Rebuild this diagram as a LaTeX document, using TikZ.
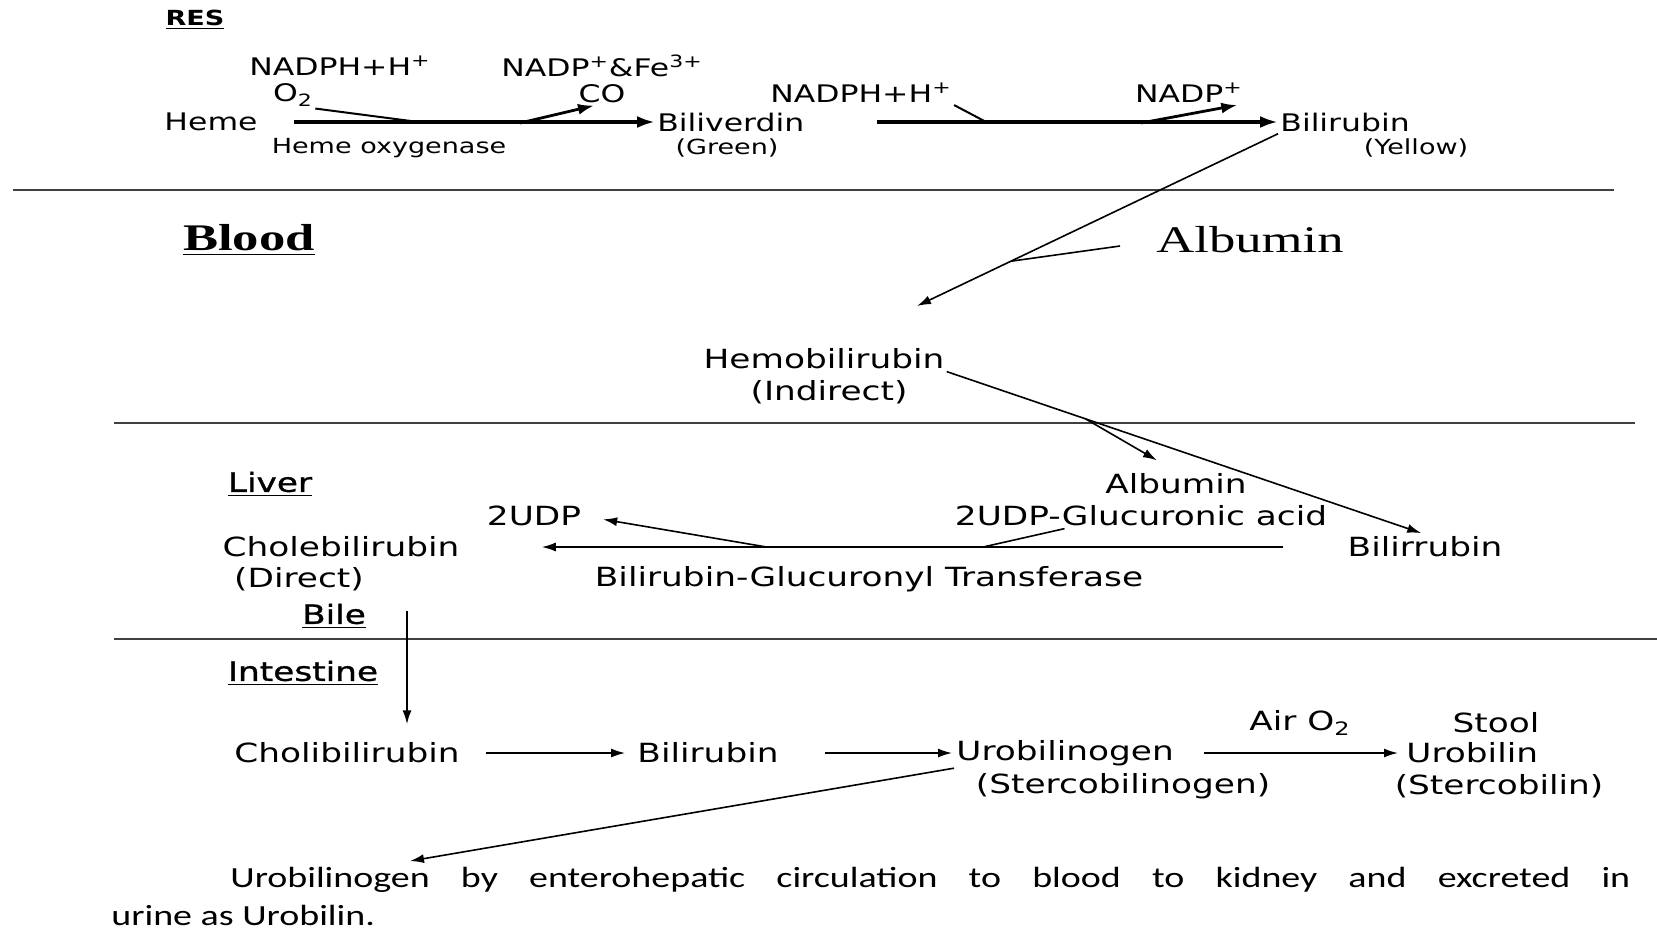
\documentclass[tikz,border=0pt]{standalone}
\usepackage{fontspec}
\setmainfont[FakeStretch=1.3]{DejaVu Sans}
\newfontfamily\headfont[FakeStretch=1.3,FakeBold=1.2]{DejaVu Sans}
\newfontfamily\timesfont[FakeStretch=1.4]{Liberation Serif}
\newfontfamily\notefont[FakeStretch=1.3]{Carlito}
\usepackage{tikz}
\usetikzlibrary{arrows.meta}

\tikzset{
  lbl/.style={inner sep=1pt, font=\fontsize{13.2}{15}\selectfont},
  toplbl/.style={inner sep=1pt, font=\fontsize{12.1}{14}\selectfont},
  smalllbl/.style={inner sep=1pt, font=\fontsize{10.4}{12}\selectfont},
  placelbl/.style={inner sep=1pt, font=\headfont\fontsize{13.2}{15}\selectfont},
  divider/.style={line width=1.2pt, black!75},
  rxn/.style={-{Latex[length=9pt,width=6pt]}, line width=1.8pt},
  arr/.style={->, line width=0.8pt},
  >={Latex[length=7pt,width=4.5pt]}
}

\begin{document}
\begin{tikzpicture}[x=0.5pt, y=-0.5pt]
\useasboundingbox (0,0) rectangle (1657,931);

\node[smalllbl, font=\bfseries\fontsize{10.4}{12}\selectfont] (res) at (195,20) {\underline{RES}};
\node[toplbl] (nadph1) at (340,66) {NADPH+H\textsuperscript{+}};
\node[toplbl] (otwo) at (293,95) {O\textsubscript{2}};
\node[toplbl] (nadpfe) at (602,66) {NADP\textsuperscript{+}\&Fe\textsuperscript{3+}};
\node[toplbl] (co) at (602,94) {CO};
\node[toplbl] (heme) at (211,122) {Heme};
\node[smalllbl] (hemeox) at (389,148) {Heme oxygenase};
\node[toplbl, anchor=west] (biliv) at (655,122) {Biliverdin};
\node[smalllbl] (green) at (727,148) {(Green)};
\node[toplbl] (nadph2) at (861,93) {NADPH+H\textsuperscript{+}};
\node[toplbl] (nadp) at (1189,93) {NADP\textsuperscript{+}};
\node[toplbl, anchor=west] (bilir) at (1278,122) {Bilirubin};
\node[smalllbl] (yellow) at (1416,148) {(Yellow)};

\coordinate (otwoin) at (426,123);
\coordinate (coout) at (520,123);
\coordinate (nadphin) at (988,123);
\coordinate (nadpout) at (1141,123);
\draw[rxn, shorten <=17pt] (heme.east) -- (biliv.west);
\draw[line width=1pt] (otwo.south east) -- (otwoin);
\draw[-{Latex[length=8pt,width=5.5pt]}, line width=1.4pt] (coout) -- ([xshift=-4pt]co.south);
\draw[rxn, shorten <=35pt] (biliv.east) -- (bilir.west);
\draw[line width=1pt] (nadph2.south east) -- (nadphin);
\draw[-{Latex[length=8pt,width=5.5pt]}, line width=1.4pt] (nadpout) -- ([xshift=-4pt]nadp.south east);

\draw[divider] (13,190) -- (1614,190);

\node[inner sep=1pt, font=\timesfont\bfseries\fontsize{18.8}{22}\selectfont] (blood) at (249,240) {\underline{Blood}};
\node[inner sep=1pt, font=\timesfont\fontsize{18.8}{22}\selectfont] (albtop) at (1250,240) {Albumin};
\coordinate (bloodtip) at (917,306);
\draw[arr] (bilir.south west) -- (bloodtip);
\path (bilir.south west) -- (bloodtip) coordinate[pos=0.74] (albjoin);
\draw[line width=0.8pt] ([xshift=-17pt,yshift=-3pt]albtop.west) -- (albjoin);

\node[lbl] (hemob) at (824,359) {Hemobilirubin};
\node[lbl] (indir) at (829,392) {(Indirect)};

\draw[divider] (114,423) -- (1635,423);

\node[placelbl] (liver) at (270,484) {\underline{Liver}};
\node[lbl] (udp) at (534,516) {2UDP};
\node[lbl] (chole) at (341,547) {Cholebilirubin};
\node[lbl] (direct) at (299,579) {(Direct)};
\node[lbl] (alb) at (1176,484) {Albumin};
\node[lbl] (gluc) at (1141,516) {2UDP-Glucuronic acid};
\node[lbl] (bilirr) at (1425,547) {Bilirrubin};
\node[lbl] (transf) at (869,579) {Bilirubin-Glucuronyl Transferase};

\draw[arr, shorten >=2pt] (hemob.south east) -- (bilirr.north);
\path (hemob.south east) -- (bilirr.north) coordinate[pos=0.29] (hemosplit);
\draw[arr, shorten >=11pt] (hemosplit) -- (alb.north);
\draw[arr, shorten <=31pt, shorten >=40pt] (bilirr.west) -- (chole.east);
\path (bilirr.west) -- (chole.east) coordinate[pos=0.41] (glucin) coordinate[pos=0.655] (udpout);
\draw[arr, shorten >=10pt] (udpout) -- (udp.east);
\draw[line width=0.8pt] ([xshift=56pt]gluc.south west) -- (glucin);

\node[placelbl] (bile) at (334,616) {\underline{Bile}};
\draw[divider] (114,639) -- (1657,639);
\node[placelbl] (intest) at (303,673) {\underline{Intestine}};

\node[lbl] (cholib) at (347,753) {Cholibilirubin};
\coordinate (bileout) at (407,611);
\draw[arr, line width=1pt, shorten >=8pt] (bileout) -- (bileout |- cholib.north);

\node[lbl] (bilin) at (708,753) {Bilirubin};
\node[lbl, anchor=west] (urog) at (954,753) {Urobilinogen};
\node[lbl] (sterog) at (1123,786) {(Stercobilinogen)};
\node[lbl] (airo) at (1300,723) {Air O\textsubscript{2}};
\node[lbl] (stool) at (1496,723) {Stool};
\node[lbl, anchor=west] (urob) at (1404,753) {Urobilin};
\node[lbl] (sterb) at (1499,786) {(Stercobilin)};

\draw[arr, shorten <=12pt, shorten >=5pt] (cholib.east) -- (bilin.west);
\draw[arr, shorten <=22pt, shorten >=1pt] (bilin.east) -- (urog.west);
\draw[arr, shorten <=14pt, shorten >=3pt] (urog.east) -- (urob.west);

\coordinate (notetip) at (410,861);
\draw[arr] (urog.south west) -- (notetip);

\node[anchor=north west, inner sep=0pt, align=left, font=\notefont\fontsize{14.6}{19}\selectfont] (note) at (111,867)
  {\hspace*{59.5pt}\makebox[700pt][s]{Urobilinogen by enterohepatic circulation to blood to kidney and excreted in}\\urine as Urobilin.};
\end{tikzpicture}
\end{document}
